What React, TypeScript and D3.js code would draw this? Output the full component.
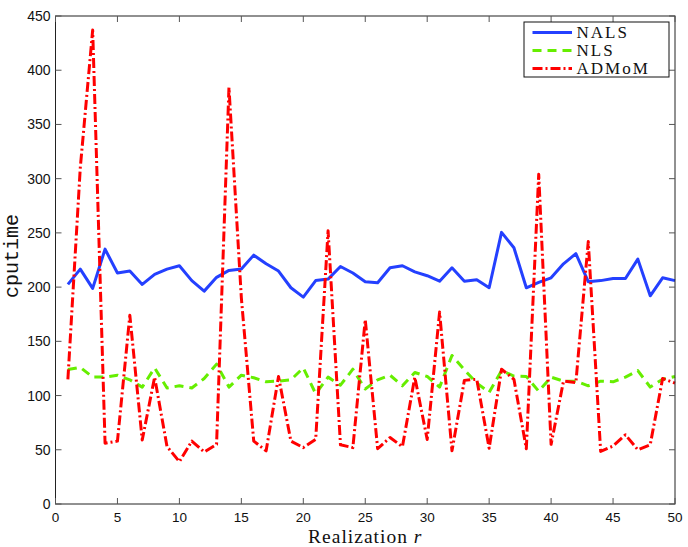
import { useEffect, useRef } from "react";
import * as d3 from "d3";

// cputime per realization r = 1..50
const realizations = d3.range(1, 51);

const nals = [
  202.5, 216.6, 198.8, 235, 213, 214.8, 202.5, 211.7, 216.6, 219.7,
  206, 196.3, 209, 215.4, 216.6, 229.5, 221.5, 214.8, 199.4, 190.8,
  206, 207.4, 219, 213, 205, 204, 217.8, 219.7, 214, 210.5,
  205.5, 217.8, 205.5, 206.8, 199.4, 250.5, 236.3, 199.4, 204.3, 208.6,
  221.5, 230.8, 205, 206, 208, 208, 225.8, 192, 208.6, 206,
];

const nls = [
  124, 126, 117, 117, 118.8, 114.5, 107.8, 125.5, 107, 109,
  107, 115.7, 129, 107.8, 118.8, 116.4, 112.7, 113.3, 114.5, 125.5,
  101.7, 117, 109.6, 124.3, 106, 114.5, 118.8, 109, 121.3, 117.6,
  107.8, 137, 123.7, 111.5, 103, 123, 118, 117.6, 104, 117,
  113.3, 113.3, 109, 113.3, 112.7, 117, 123, 107.8, 115, 117.6,
];

const admom = [
  115, 310, 437, 56, 58, 174, 59, 117, 53, 39,
  58, 48, 55, 384, 190, 58, 49, 117.6, 58, 52,
  59.5, 252, 54.6, 52, 170, 51, 61.3, 52.8, 117, 59.5,
  177, 49, 114, 115, 51.5, 124.3, 115, 51, 304, 55,
  113.3, 112, 242, 48.5, 53.4, 63.8, 50, 54.6, 115.7, 111.5,
];

const xTicks = d3.range(0, 51, 5);
const yTicks = d3.range(0, 451, 50);

const seriesNames = ["NALS", "NLS", "ADMoM"];

const W = 688;
const H = 547;
const MARGIN = { top: 16, right: 13, bottom: 43, left: 55.5 };

const STYLES = [
  { color: "#2440ff", dash: null as string | null },
  { color: "#66ee00", dash: "9,6" },
  { color: "#ff0000", dash: "10,3,2,3" },
];

export default function App() {
  const svgRef = useRef<SVGSVGElement>(null);

  useEffect(() => {
    const svg = svgRef.current;
    if (!svg) return;
    d3.select(svg).selectAll("*").remove();

    const width = W - MARGIN.left - MARGIN.right;
    const height = H - MARGIN.top - MARGIN.bottom;

    const root = d3
      .select(svg)
      .attr("width", W)
      .attr("height", H)
      .append("g")
      .attr("transform", `translate(${MARGIN.left},${MARGIN.top})`);

    const x = d3.scaleLinear().domain([0, 50]).range([0, width]);
    const y = d3.scaleLinear().domain([0, 450]).range([height, 0]);

    // Lines
    const line = d3
      .line<number>()
      .x((_, i) => x(realizations[i]))
      .y((d) => y(d));

    [nals, nls, admom].forEach((vals, k) => {
      const p = root
        .append("path")
        .datum(vals)
        .attr("fill", "none")
        .attr("stroke", STYLES[k].color)
        .attr("stroke-width", 3)
        .attr("stroke-linejoin", "round")
        .attr("d", line);
      if (STYLES[k].dash) p.attr("stroke-dasharray", STYLES[k].dash);
    });

    // Frame + inward ticks on all sides
    root
      .append("rect")
      .attr("width", width)
      .attr("height", height)
      .attr("fill", "none")
      .attr("stroke", "#222")
      .attr("stroke-width", 1);

    const tickLen = 6;
    const ticks = root.append("g").attr("stroke", "#555").attr("stroke-width", 1);
    xTicks.forEach((t) => {
      ticks.append("line").attr("x1", x(t)).attr("x2", x(t)).attr("y1", height).attr("y2", height - tickLen);
      ticks.append("line").attr("x1", x(t)).attr("x2", x(t)).attr("y1", 0).attr("y2", tickLen);
    });
    yTicks.forEach((t) => {
      ticks.append("line").attr("x1", 0).attr("x2", tickLen).attr("y1", y(t)).attr("y2", y(t));
      ticks.append("line").attr("x1", width).attr("x2", width - tickLen).attr("y1", y(t)).attr("y2", y(t));
    });

    // Tick labels
    root
      .append("g")
      .selectAll("text")
      .data(xTicks)
      .join("text")
      .attr("x", (d) => x(d))
      .attr("y", height + 17.5)
      .attr("text-anchor", "middle")
      .attr("font-family", "'Liberation Sans', Arial, sans-serif")
      .attr("font-size", "13.5px")
      .attr("fill", "#111")
      .text((d) => d);

    root
      .append("g")
      .selectAll("text")
      .data(yTicks)
      .join("text")
      .attr("x", -5)
      .attr("y", (d) => y(d))
      .attr("dy", "0.36em")
      .attr("text-anchor", "end")
      .attr("font-family", "'Liberation Sans', Arial, sans-serif")
      .attr("font-size", "14px")
      .attr("fill", "#111")
      .text((d) => d);

    // Axis labels
    root
      .append("text")
      .attr("x", width / 2)
      .attr("y", height + 39)
      .attr("text-anchor", "middle")
      .attr("font-family", "'Liberation Serif', 'DejaVu Serif', serif")
      .attr("font-size", "19.5px")
      .attr("letter-spacing", "1px")
      .attr("fill", "#111")
      .call((t) => {
        t.append("tspan").text("Realization ");
        t.append("tspan").attr("font-style", "italic").text("r");
      });

    root
      .append("text")
      .attr("transform", `translate(${-MARGIN.left + 18},${height / 2 - 4}) rotate(-90)`)
      .attr("text-anchor", "middle")
      .attr("font-family", "'Liberation Mono', 'DejaVu Sans Mono', monospace")
      .attr("font-size", "20px")
      .attr("fill", "#111")
      .text("cputime");

    // Legend
    const lx = 524 - MARGIN.left;
    const ly = 22 - MARGIN.top;
    const legend = root.append("g").attr("transform", `translate(${lx},${ly})`);
    legend
      .append("rect")
      .attr("width", 145)
      .attr("height", 55)
      .attr("fill", "#fff")
      .attr("stroke", "#111")
      .attr("stroke-width", 1);

    seriesNames.forEach((name, k) => {
      const cy = 10.5 + k * 18;
      const l = legend
        .append("line")
        .attr("x1", 8.5)
        .attr("x2", 48)
        .attr("y1", cy)
        .attr("y2", cy)
        .attr("stroke", STYLES[k].color)
        .attr("stroke-width", 3);
      if (STYLES[k].dash) l.attr("stroke-dasharray", STYLES[k].dash);
      legend
        .append("text")
        .attr("x", 52.5)
        .attr("y", cy)
        .attr("dy", "0.34em")
        .attr("font-family", "'Liberation Serif', 'DejaVu Serif', serif")
        .attr("font-size", "17px")
        .attr("letter-spacing", "2px")
        .attr("fill", "#111")
        .text(name);
    });
  }, []);

  return (
    <div style={{ position: "absolute", left: 0, top: 0, width: W, height: H, background: "#fff" }}>
      <svg ref={svgRef} style={{ display: "block" }} />
    </div>
  );
}
